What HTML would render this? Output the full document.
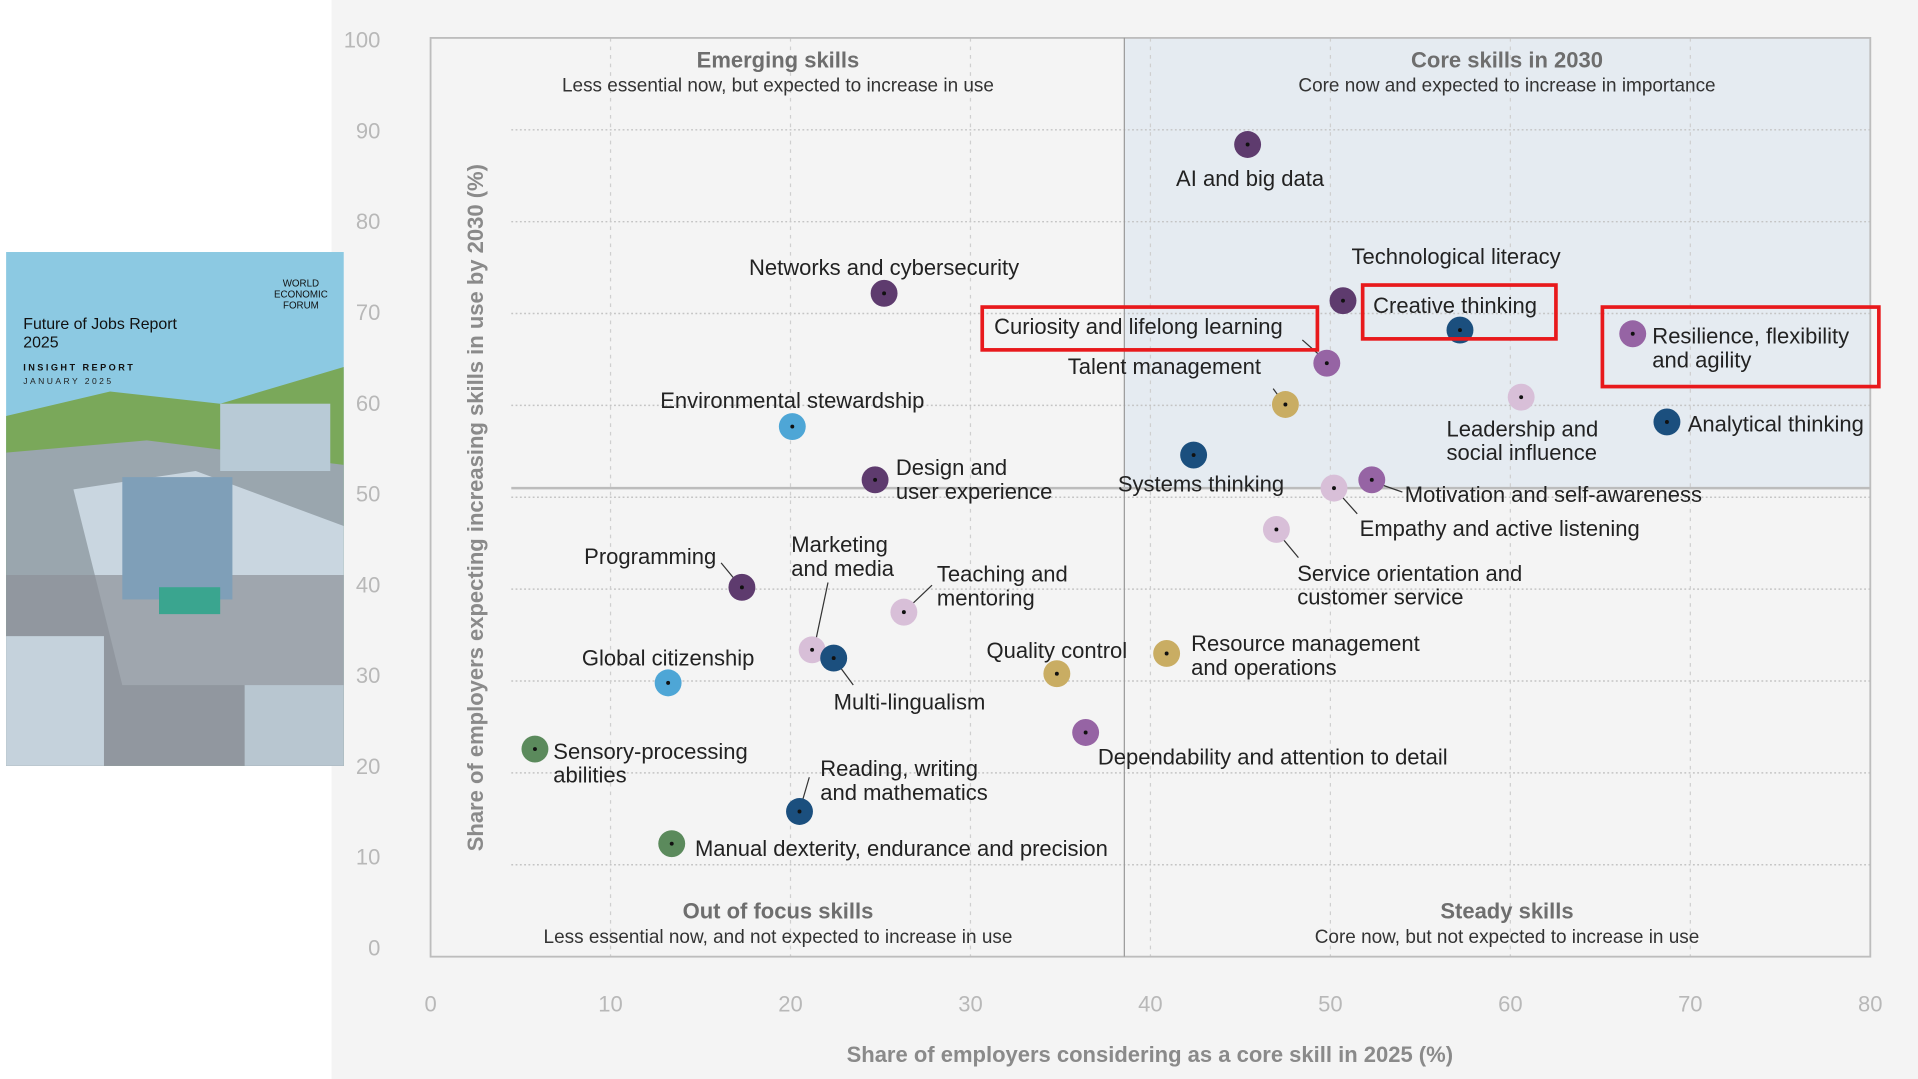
<!DOCTYPE html>
<html><head><meta charset="utf-8"><style>
html,body{margin:0;padding:0;background:#fff;}
svg{display:block;font-family:"Liberation Sans",sans-serif;}
</style></head><body>
<svg id="chart" width="1918" height="1079" viewBox="0 0 1568 882" preserveAspectRatio="none" xmlns="http://www.w3.org/2000/svg">
<rect x="0" y="0" width="1568" height="882" fill="#ffffff"/>
<rect x="271" y="0" width="1297" height="882" fill="#f4f4f4"/>
<g>
  <rect x="5" y="206" width="276" height="420" fill="#8cc9e2"/>
  <path d="M5 340 L90 320 L180 330 L281 300 L281 626 L5 626 Z" fill="#7aa85a"/>
  <path d="M5 370 L120 360 L281 380 L281 626 L5 626 Z" fill="#9aa6ae"/>
  <path d="M60 400 L160 385 L281 430 L281 560 L100 560 Z" fill="#c9d6e0"/>
  <path d="M5 470 L281 470 L281 626 L5 626 Z" fill="#8d9298" opacity="0.7"/>
  <rect x="100" y="390" width="90" height="100" fill="#7f9fb8"/>
  <rect x="180" y="330" width="90" height="55" fill="#b8cad6"/>
  <rect x="5" y="520" width="80" height="106" fill="#c5d2dc"/>
  <rect x="200" y="560" width="81" height="66" fill="#b8c6d0"/>
  <rect x="130" y="480" width="50" height="22" fill="#3aa58f"/>
  <text x="19" y="269" font-size="13" fill="#111">Future of Jobs Report</text>
  <text x="19" y="284" font-size="13" fill="#111">2025</text>
  <text x="19" y="303" font-size="7.5" font-weight="bold" letter-spacing="2" fill="#111">INSIGHT REPORT</text>
  <text x="19" y="314" font-size="7" letter-spacing="2" fill="#222">JANUARY 2025</text>
  <text x="246" y="234" font-size="8" text-anchor="middle" fill="#111">WORLD</text>
  <text x="246" y="243" font-size="8" text-anchor="middle" fill="#111">ECONOMIC</text>
  <text x="246" y="252" font-size="8" text-anchor="middle" fill="#111">FORUM</text>
</g>
<g id="plot"></g>
</svg>
<script>
const categories=["AI and big data","Technological literacy","Creative thinking","Curiosity and lifelong learning","Talent management","Resilience, flexibility and agility","Leadership and social influence","Analytical thinking","Systems thinking","Motivation and self-awareness","Empathy and active listening","Service orientation and customer service","Networks and cybersecurity","Environmental stewardship","Design and user experience","Programming","Marketing and media","Multi-lingualism","Teaching and mentoring","Global citizenship","Quality control","Resource management and operations","Dependability and attention to detail","Sensory-processing abilities","Reading, writing and mathematics","Manual dexterity, endurance and precision"];
const coreShare2025=[45.4,50.7,57.2,49.8,47.5,66.8,60.6,68.7,42.4,52.3,50.2,47.0,25.2,20.1,24.7,17.3,21.2,22.4,26.3,13.2,34.8,40.9,36.4,5.8,20.5,13.4];
const increasing2030=[88.4,71.4,68.2,64.6,60.1,67.8,60.9,58.2,54.6,51.9,51.0,46.5,72.2,57.7,51.9,40.2,33.4,32.5,37.5,29.8,30.8,33.0,24.4,22.6,15.8,12.3];
const groups=["tech","tech","cog","self","mgmt","self","engage","cog","cog","self","engage","engage","tech","env","tech","tech","engage","cog","engage","env","mgmt","mgmt","self","phys","cog","phys"];
const xTicks=[0,10,20,30,40,50,60,70,80];
const yTicks=[0,10,20,30,40,50,60,70,80,90,100];
const xDivider=38.55, yDivider=51;
const colors={tech:"#5e3b6e",cog:"#1b4f7e",self:"#9664a4",mgmt:"#c9ad63",engage:"#d8bfd8",env:"#4ea6d6",phys:"#5b8a5c"};
const labelLayout=[
[["AI and big data"],2,34,"middle",null],
[["Technological literacy"],7,-30,"start",null],
[["Creative thinking"],-71,-14,"start",null],
[["Curiosity and lifelong learning"],-272,-24,"start",[-20,-19,-3,-4]],
[["Talent management"],-20,-25,"end",[-10,-13,-2,-2]],
[["Resilience, flexibility","and agility"],16,8,"start",null],
[["Leadership and","social influence"],-61,32,"start",null],
[["Analytical thinking"],17,8,"start",null],
[["Systems thinking"],74,30,"end",null],
[["Motivation and self-awareness"],27,18,"start",[5,3,25,10]],
[["Empathy and active listening"],21,39,"start",[2,2,19,21]],
[["Service orientation and","customer service"],17,42,"start",[3,5,18,23]],
[["Networks and cybersecurity"],0,-15,"middle",null],
[["Environmental stewardship"],0,-15,"middle",null],
[["Design and","user experience"],17,-4,"start",null],
[["Programming"],-21,-19,"end",[-17,-20,-3,-3]],
[["Marketing","and media"],-17,-80,"start",[13,-55,2,-3]],
[["Multi-lingualism"],0,42,"start",[2,3,16,22]],
[["Teaching and","mentoring"],27,-25,"start",[23,-22,3,-3]],
[["Global citizenship"],0,-14,"middle",null],
[["Quality control"],0,-13,"middle",null],
[["Resource management","and operations"],20,-2,"start",null],
[["Dependability and attention to detail"],10,26,"start",null],
[["Sensory-processing","abilities"],15,8,"start",null],
[["Reading, writing","and mathematics"],17,-29,"start",[1,-4,8,-28]],
[["Manual dexterity, endurance and precision"],19,10,"start",null]
];
const X0=352,X1=1529,Y0=782,Y1=31;
function xs(v){return X0+(v-xTicks[0])/(xTicks[xTicks.length-1]-xTicks[0])*(X1-X0);}
function ys(v){return Y0-(v-yTicks[0])/(yTicks[yTicks.length-1]-yTicks[0])*(Y0-Y1);}
function yLabelPos(v){return 781-(v-yTicks[0])/(yTicks[yTicks.length-1]-yTicks[0])*742;}
const NS="http://www.w3.org/2000/svg";
const plot=document.getElementById('plot');
function mk(tag,attrs,parent){const e=document.createElementNS(NS,tag);for(const k in attrs)e.setAttribute(k,attrs[k]);(parent||plot).appendChild(e);return e;}
let q=mk('rect',{x:xs(xDivider),y:Y1,width:X1-xs(xDivider),height:ys(yDivider)-Y1,fill:"#e5ebf1"});


yTicks.forEach(t=>{
  if(t>0&&t<100){let g=mk('line',{x1:418,x2:X1,y1:ys(t),y2:ys(t),stroke:"#c4c4c4","stroke-width":1.2,"stroke-dasharray":"1.5 2"});
  
  }
  let l=mk('text',{x:311,y:yLabelPos(t),"text-anchor":"end","font-size":18,fill:"#b8b8b8"});
  
  
  l.textContent=t;
});
xTicks.forEach(t=>{
  if(t>0&&t<80){let g=mk('line',{x1:xs(t),x2:xs(t),y1:Y1,y2:Y0,stroke:"#cfcfcf","stroke-width":1,"stroke-dasharray":"3 4"});
  
  }
  let l=mk('text',{x:xs(t),y:827,"text-anchor":"middle","font-size":18,fill:"#b8b8b8"});
  
  
  l.textContent=t;
});
let fr=mk('rect',{x:X0,y:Y1,width:X1-X0,height:Y0-Y1,fill:"none",stroke:"#bdbdbd","stroke-width":1.5});


let vd=mk('line',{x1:xs(xDivider),x2:xs(xDivider),y1:Y1,y2:Y0,stroke:"#9a9a9a","stroke-width":1});


let hd=mk('line',{x1:418,x2:X1,y1:ys(yDivider),y2:ys(yDivider),stroke:"#bcbcbc","stroke-width":2});


const quads=[["Emerging skills","Less essential now, but expected to increase in use",636,55],["Core skills in 2030","Core now and expected to increase in importance",1232,55],["Out of focus skills","Less essential now, and not expected to increase in use",636,751],["Steady skills","Core now, but not expected to increase in use",1232,751]];
quads.forEach(d=>{
  let t=mk('text',{x:d[2],y:d[3],"text-anchor":"middle","font-size":18,"font-weight":"bold",fill:"#6e6e6e"});
  
  
  t.textContent=d[0];
  let s=mk('text',{x:d[2],y:d[3]+20,"text-anchor":"middle","font-size":15.5,fill:"#333"});
  
  
  s.textContent=d[1];
});
let xt=mk('text',{x:940,y:868,"text-anchor":"middle","font-size":18,"font-weight":"bold",fill:"#8a8a8a"});


xt.textContent="Share of employers considering as a core skill in 2025 (%)";
let yt=mk('text',{x:0,y:0,"text-anchor":"middle","font-size":18,"font-weight":"bold",fill:"#8a8a8a",transform:"translate(395,415) rotate(-90)"});


yt.textContent="Share of employers expecting increasing skills in use by 2030 (%)";
categories.forEach((c,i)=>{
  const px=xs(coreShare2025[i]),py=ys(increasing2030[i]);
  const L=labelLayout[i];
  if(L[4]){let ln=mk('line',{x1:px+L[4][0],y1:py+L[4][1],x2:px+L[4][2],y2:py+L[4][3],stroke:"#333","stroke-width":1});
    
    }
  let dot=mk('circle',{cx:px,cy:py,r:11,fill:colors[groups[i]]});
  
  
  mk('circle',{cx:px,cy:py,r:1.6,fill:"#111"});
  let t=mk('text',{x:px+L[1],y:py+L[2],"text-anchor":L[3],"font-size":18,fill:"#222"});
  
  
  L[0].forEach((line,j)=>{let ts=mk('tspan',{x:px+L[1],dy:j?19.5:0},t);ts.textContent=line;});
});
[[803,251,274,35],[1114,233,158,44],[1310,251,226,65]].forEach(b=>{
  let r=mk('rect',{x:b[0],y:b[1],width:b[2],height:b[3],fill:"none",stroke:"#e8191c","stroke-width":3});
  
  
});
</script>
</body></html>
